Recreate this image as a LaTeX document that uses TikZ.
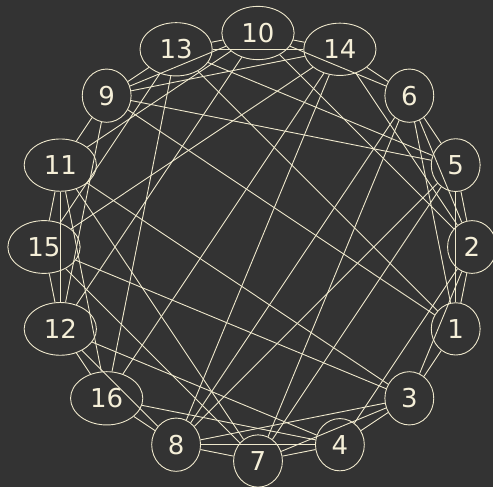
\documentclass[tikz,border=0pt]{standalone}
\usepackage{fontspec}
\setmainfont{DejaVu Sans}
\usepackage{xcolor}
\definecolor{cBack}{HTML}{333333}
\definecolor{cLine}{HTML}{EEE8CC}
\definecolor{cText}{HTML}{F5EFD8}
\usepackage{tikz}
\usetikzlibrary{shapes.geometric}
\tikzset{
  node-vertex/.style={draw=cLine,line width=0.9pt,ellipse,inner sep=9pt,
    minimum width=48pt,minimum height=52pt,text=cText,
    font=\fontsize{26}{26}\selectfont},
  link-line/.style={draw=cLine,line width=0.9pt},
}

\begin{document}
\begin{tikzpicture}[x=1pt,y=1pt]
  \path[use as bounding box,fill=cBack] (-258,-240) rectangle (235,247);
  % vertices on the ring, every 22.5 degrees
  \node[node-vertex] (v2)  at (0:214)     {2};
  \node[node-vertex] (v5)  at (22.5:214)  {5};
  \node[node-vertex] (v6)  at (45:214)    {6};
  \node[node-vertex] (v14) at (67.5:214)  {14};
  \node[node-vertex] (v10) at (90:214)    {10};
  \node[node-vertex] (v13) at (112.5:214) {13};
  \node[node-vertex] (v9)  at (135:214)   {9};
  \node[node-vertex] (v11) at (157.5:214) {11};
  \node[node-vertex] (v15) at (180:214)   {15};
  \node[node-vertex] (v12) at (202.5:214) {12};
  \node[node-vertex] (v16) at (225:214)   {16};
  \node[node-vertex] (v8)  at (247.5:214) {8};
  \node[node-vertex] (v7)  at (270:214)   {7};
  \node[node-vertex] (v4)  at (292.5:214) {4};
  \node[node-vertex] (v3)  at (315:214)   {3};
  \node[node-vertex] (v1)  at (337.5:214) {1};
  % links
  \draw[link-line] (v10) -- (v13);
  \draw[link-line] (v10) -- (v14);
  \draw[link-line] (v13) -- (v14);
  \draw[link-line] (v10) -- (v6);
  \draw[link-line] (v10) -- (v9);
  \draw[link-line] (v10) -- (v2);
  \draw[link-line] (v10) -- (v11);
  \draw[link-line] (v10) -- (v12);
  \draw[link-line] (v14) -- (v6);
  \draw[link-line] (v14) -- (v2);
  \draw[link-line] (v14) -- (v9);
  \draw[link-line] (v14) -- (v16);
  \draw[link-line] (v14) -- (v15);
  \draw[link-line] (v14) -- (v8);
  \draw[link-line] (v13) -- (v9);
  \draw[link-line] (v13) -- (v5);
  \draw[link-line] (v13) -- (v16);
  \draw[link-line] (v13) -- (v15);
  \draw[link-line] (v13) -- (v1);
  \draw[link-line] (v9) -- (v11);
  \draw[link-line] (v9) -- (v5);
  \draw[link-line] (v9) -- (v1);
  \draw[link-line] (v9) -- (v12);
  \draw[link-line] (v6) -- (v8);
  \draw[link-line] (v6) -- (v7);
  \draw[link-line] (v6) -- (v1);
  \draw[link-line] (v6) -- (v2);
  \draw[link-line] (v6) -- (v5);
  \draw[link-line] (v5) -- (v2);
  \draw[link-line] (v5) -- (v1);
  \draw[link-line] (v5) -- (v8);
  \draw[link-line] (v5) -- (v7);
  \draw[link-line] (v2) -- (v1);
  \draw[link-line] (v2) -- (v3);
  \draw[link-line] (v2) -- (v4);
  \draw[link-line] (v1) -- (v3);
  \draw[link-line] (v3) -- (v11);
  \draw[link-line] (v3) -- (v15);
  \draw[link-line] (v3) -- (v8);
  \draw[link-line] (v3) -- (v7);
  \draw[link-line] (v3) -- (v4);
  \draw[link-line] (v4) -- (v8);
  \draw[link-line] (v4) -- (v7);
  \draw[link-line] (v4) -- (v12);
  \draw[link-line] (v4) -- (v16);
  \draw[link-line] (v7) -- (v8);
  \draw[link-line] (v7) -- (v11);
  \draw[link-line] (v7) -- (v15);
  \draw[link-line] (v8) -- (v16);
  \draw[link-line] (v8) -- (v12);
  \draw[link-line] (v11) -- (v15);
  \draw[link-line] (v11) -- (v12);
  \draw[link-line] (v11) -- (v16);
  \draw[link-line] (v15) -- (v12);
  \draw[link-line] (v12) -- (v16);
\end{tikzpicture}
\end{document}
